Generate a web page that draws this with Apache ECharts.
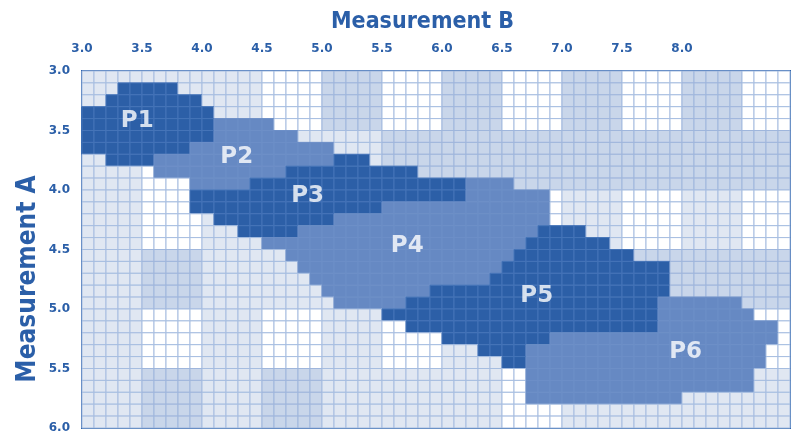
<!DOCTYPE html>
<html>
<head>
<meta charset="utf-8">
<title>Measurement A / Measurement B</title>
<script src="https://cdn.jsdelivr.net/npm/echarts@6/dist/echarts.min.js"></script>
<style>
  html, body { margin: 0; padding: 0; background: #fff; }
  #main { width: 798px; height: 434px; }
</style>
</head>
<body>
<div id="main"></div>
<script>
// tick labels
var xTickLabels = ['3.0', '3.5', '4.0', '4.5', '5.0', '5.5', '6.0', '6.5', '7.0', '7.5', '8.0']
var yTickLabels = ['3.0', '3.5', '4.0', '4.5', '5.0', '5.5', '6.0']

// grid of cells, 0.1 wide each
var xMin = 3.0
var yMin = 3.0
var step = 0.1
var nCols = 59
var nRows = 30

// background shade of each 5x5 block (0 white, 1 light, 2 medium)
var shadeBlocks = [
  [1, 1, 1, 0, 2, 0, 2, 0, 2, 0, 2, 0],
  [1, 0, 1, 1, 1, 2, 2, 2, 2, 2, 2, 2],
  [1, 0, 1, 1, 1, 1, 1, 0, 1, 0, 1, 0],
  [1, 2, 1, 1, 1, 1, 1, 1, 1, 2, 2, 2],
  [1, 0, 1, 0, 1, 0, 1, 1, 1, 1, 1, 0],
  [1, 2, 1, 2, 1, 1, 1, 0, 1, 1, 1, 1]
]

// regions, one entry per grid row: [row, firstCol, lastCol]
var p1Rows = [[1, 3, 7], [2, 2, 9], [3, 0, 10], [4, 0, 10], [5, 0, 10], [6, 0, 8], [7, 2, 5]]
var p2Rows = [[4, 11, 15], [5, 11, 17], [6, 9, 20], [7, 6, 20], [8, 6, 16], [9, 9, 13]]
var p3Rows = [[7, 21, 23], [8, 17, 27], [9, 14, 31], [10, 9, 31], [11, 9, 24], [12, 11, 20], [13, 13, 17]]
var p4Rows = [[9, 32, 35], [10, 32, 38], [11, 25, 38], [12, 21, 38], [13, 18, 37], [14, 15, 36],
  [15, 17, 35], [16, 18, 34], [17, 19, 33], [18, 20, 28], [19, 21, 26]]
var p5Rows = [[13, 38, 41], [14, 37, 43], [15, 36, 45], [16, 35, 48], [17, 34, 48], [18, 29, 48],
  [19, 27, 47], [20, 25, 47], [21, 27, 47], [22, 30, 38], [23, 33, 36], [24, 35, 36]]
var p6Rows = [[19, 48, 54], [20, 48, 55], [21, 48, 57], [22, 39, 57], [23, 37, 56], [24, 37, 56],
  [25, 37, 55], [26, 37, 55], [27, 37, 49]]

var regionNames = ['P1', 'P2', 'P3', 'P4', 'P5', 'P6']
var regionLabelX = [3.46, 4.29, 4.88, 5.71, 6.79, 8.03]
var regionLabelY = [3.42, 3.72, 4.05, 4.47, 4.89, 5.36]

// 0-2 background shades, 3 dark region, 4 medium region
var fills = ['#ffffff', '#e0e7f2', '#c9d6ea', '#2c5fa7', '#6689c3']
var strokes = ['#a6bde0', '#a6bde0', '#9fb6dc', '#4574b8', '#6d8fc7']
var blue = '#2b5fa8'

var kinds = []
for (var r = 0; r < nRows; r++) {
  kinds.push([])
  for (var c = 0; c < nCols; c++) {
    kinds[r].push(shadeBlocks[Math.floor(r / 5)][Math.floor(c / 5)])
  }
}
;[p1Rows, p2Rows, p3Rows, p4Rows, p5Rows, p6Rows].forEach(function (rows, i) {
  rows.forEach(function (s) {
    for (var c = s[1]; c <= s[2]; c++) kinds[s[0]][c] = i % 2 === 0 ? 3 : 4
  })
})

var cells = []
for (var r = 0; r < nRows; r++) {
  for (var c = 0; c < nCols; c++) {
    cells.push([xMin + c * step, yMin + r * step, kinds[r][c]])
  }
}

var labels = regionNames.map(function (n, i) {
  return { name: n, value: [regionLabelX[i], regionLabelY[i]] }
})

function renderCell(params, api) {
  var x = api.value(0)
  var y = api.value(1)
  var k = api.value(2)
  var a = api.coord([x, y])
  var b = api.coord([x + step, y + step])
  return {
    type: 'rect',
    shape: {
      x: Math.min(a[0], b[0]),
      y: Math.min(a[1], b[1]),
      width: Math.abs(b[0] - a[0]),
      height: Math.abs(b[1] - a[1])
    },
    style: { fill: fills[k], stroke: strokes[k], lineWidth: 1 }
  }
}

var chart = echarts.init(document.getElementById('main'))
chart.setOption({
  backgroundColor: '#fff',
  animation: false,
  title: {
    text: 'Measurement B',
    left: 326,
    top: 6,
    textStyle: { color: blue, fontFamily: 'DejaVu Sans Condensed, DejaVu Sans', fontWeight: 'bold', fontSize: 23 }
  },
  grid: {
    left: 82,
    top: 71,
    width: 708,
    height: 358,
    show: true,
    borderColor: '#2f64ad',
    borderWidth: 2
  },
  xAxis: {
    type: 'value',
    position: 'top',
    min: xMin,
    max: xMin + nCols * step,
    interval: 0.5,
    axisLine: { show: false },
    axisTick: { show: false },
    splitLine: { show: false },
    axisLabel: {
      margin: 16,
      color: blue,
      fontFamily: 'DejaVu Sans',
      fontWeight: 'bold',
      fontSize: 12,
      formatter: function (v) {
        var s = v.toFixed(1)
        return xTickLabels.indexOf(s) >= 0 ? s : ''
      }
    }
  },
  yAxis: {
    type: 'value',
    inverse: true,
    min: yMin,
    max: yMin + nRows * step,
    interval: 0.5,
    axisLine: { show: false },
    axisTick: { show: false },
    splitLine: { show: false },
    axisLabel: {
      margin: 12,
      color: blue,
      fontFamily: 'DejaVu Sans',
      fontWeight: 'bold',
      fontSize: 12,
      formatter: function (v) {
        var s = v.toFixed(1)
        return yTickLabels.indexOf(s) >= 0 ? s : ''
      }
    }
  },
  graphic: [{
    type: 'text',
    x: 28,
    y: 279,
    rotation: Math.PI / 2,
    style: {
      text: 'Measurement A',
      fill: blue,
      font: 'bold 26px "DejaVu Sans Condensed", "DejaVu Sans"',
      textAlign: 'center',
      textVerticalAlign: 'middle'
    }
  }],
  series: [
    {
      type: 'custom',
      renderItem: renderCell,
      data: cells,
      silent: true
    },
    {
      type: 'scatter',
      data: labels,
      symbolSize: 0,
      silent: true,
      z: 5,
      label: {
        show: true,
        position: 'inside',
        formatter: '{b}',
        color: '#fff',
        fontFamily: 'DejaVu Sans',
        fontWeight: 'bold',
        fontSize: 23
      }
    }
  ]
})
</script>
</body>
</html>
